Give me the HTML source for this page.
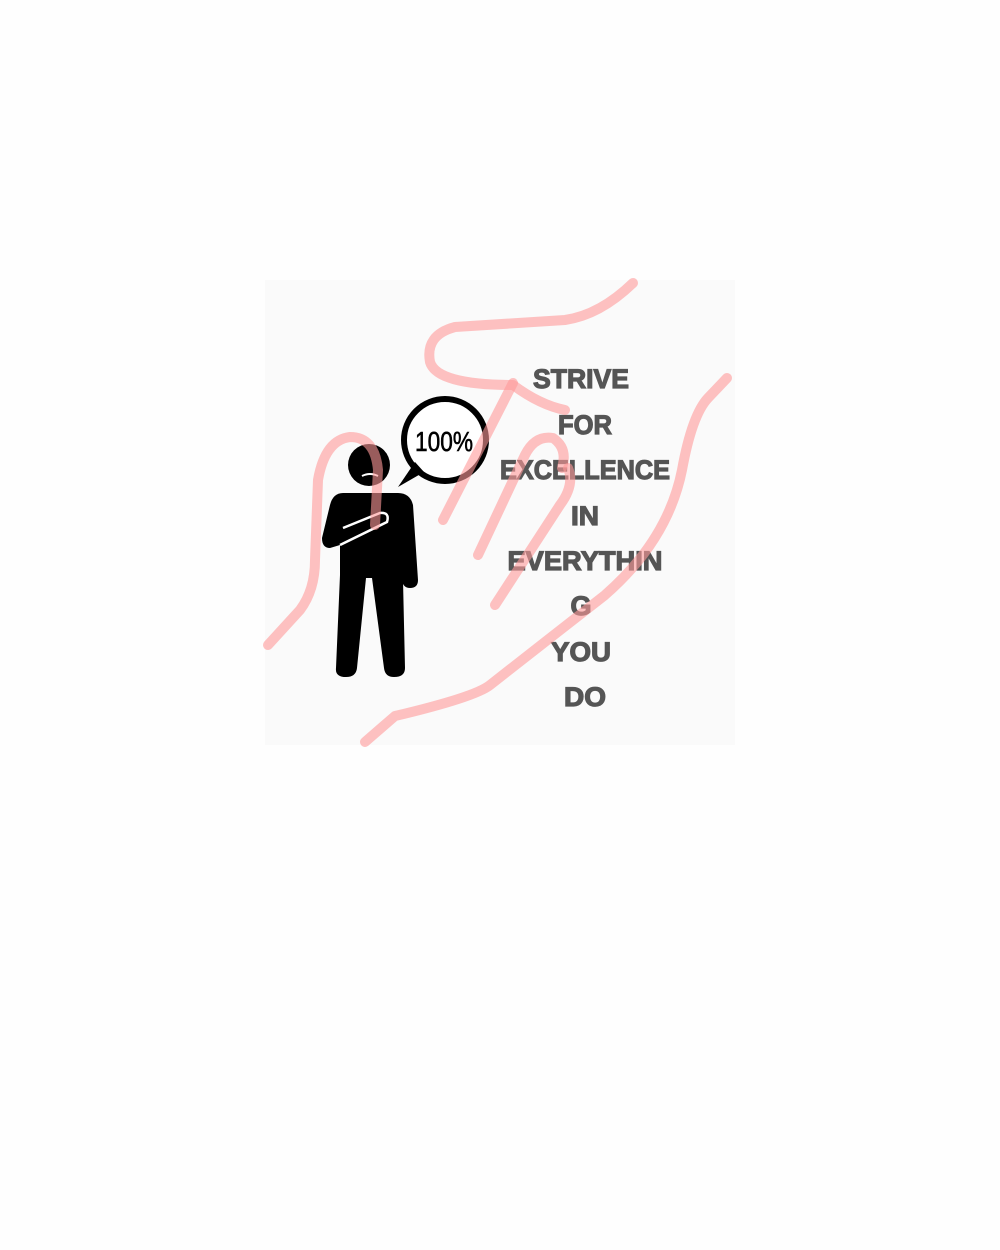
<!DOCTYPE html>
<html><head><style>
html,body{margin:0;padding:0;background:#fefefe;}
svg{display:block;}
</style></head><body>
<svg width="1000" height="1250" viewBox="0 0 1000 1250" xmlns="http://www.w3.org/2000/svg">
<rect width="1000" height="1250" fill="#fefefe"/>
<rect x="265" y="280" width="470" height="465" fill="#fafafa"/>
<g font-family="Liberation Sans, sans-serif" font-weight="bold" font-size="27" fill="#555" stroke="#555" stroke-width="1.2" text-anchor="middle">
<text x="581" y="388" textLength="96" lengthAdjust="spacingAndGlyphs">STRIVE</text>
<text x="585" y="434" textLength="54" lengthAdjust="spacingAndGlyphs">FOR</text>
<text x="585" y="479" textLength="170" lengthAdjust="spacingAndGlyphs">EXCELLENCE</text>
<text x="585" y="525" textLength="28" lengthAdjust="spacingAndGlyphs">IN</text>
<text x="585" y="570" textLength="155" lengthAdjust="spacingAndGlyphs">EVERYTHIN</text>
<text x="581" y="615">G</text>
<text x="581" y="661" textLength="60" lengthAdjust="spacingAndGlyphs">YOU</text>
<text x="585" y="706" textLength="42" lengthAdjust="spacingAndGlyphs">DO</text>
</g>
<g fill="#000">
<circle cx="369" cy="465" r="21"/>
<path d="M343,493 L398,493 Q410,493 413,505 L418,580 Q418,588 410,588 Q403,588 402,580 L400,540 L403,580 L405,668 Q405,677 394,677 Q385,677 384,668 L372,578 L366,578 L357,668 Q356,677 346,677 Q335,677 336,668 L340,575 L340,545 L330,548 Q322,548 322,538 L330,505 Q333,493 343,493Z"/>
<circle cx="445" cy="440" r="41" fill="#fff" stroke="#000" stroke-width="6"/>
<path d="M398,487 L415,462 L424,472Z"/>
</g>
<path d="M362,476 Q370,472 378,476" stroke="#fff" stroke-width="2" fill="none"/>
<path d="M343,528 L380,513 Q390,512 387,522 L340,545" stroke="#fff" stroke-width="2.5" fill="none"/>
<text x="444" y="451" font-family="Liberation Sans Narrow, Liberation Sans, sans-serif" font-size="28" text-anchor="middle" fill="#000" stroke="#000" stroke-width="0.6" textLength="58" lengthAdjust="spacingAndGlyphs">100%</text>
<g fill="none" stroke="#ff9a9a" stroke-opacity="0.6" stroke-width="10" stroke-linecap="round" stroke-linejoin="round">
<path d="M633,283 Q600,315 565,320 L455,327 Q425,335 430,362 Q437,385 513,385 Q540,405 565,410"/>
<path d="M513,383 L443,520"/>
<path d="M478,555 L525,455 Q535,435 553,438 Q568,448 562,468"/>
<path d="M495,605 L560,505 Q575,485 568,468"/>
<path d="M727,378 L708,398 Q692,415 682,470 Q668,540 605,595 L490,685 Q475,697 395,716 L365,742"/>
<path d="M268,645 L300,610 Q315,590 315,560 L318,480 Q325,440 350,437 Q375,437 378,470 L375,525"/>
</g>
</svg>
</body></html>
